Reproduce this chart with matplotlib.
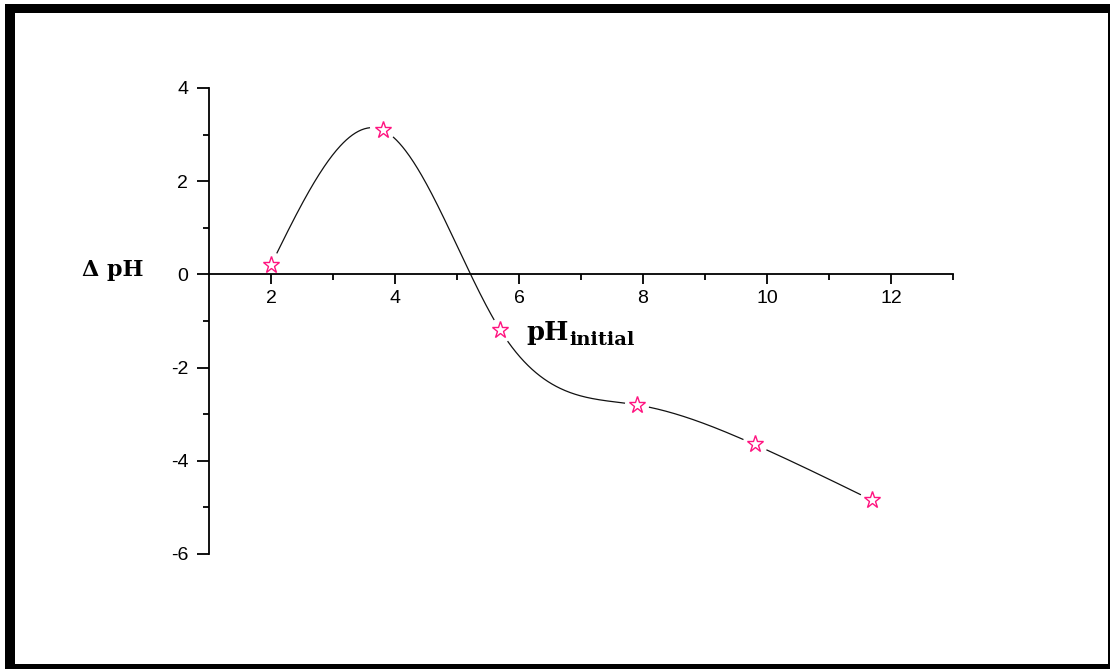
import numpy as np
import matplotlib
matplotlib.use("Agg")
import matplotlib.pyplot as plt
from matplotlib.patches import Rectangle

# --- data ------------------------------------------------------------------
ph_initial = [2.0, 3.8, 5.7, 7.9, 9.8, 11.7]
delta_ph = [0.2, 3.1, -1.2, -2.8, -3.65, -4.85]

x_ticks = [2, 4, 6, 8, 10, 12]
y_ticks = [-6, -4, -2, 0, 2, 4]


def natural_spline(x, y, n=600):
    """Natural cubic spline through the points (the smooth connecting line)."""
    x = np.asarray(x, float)
    y = np.asarray(y, float)
    k = len(x)
    h = np.diff(x)
    A = np.zeros((k, k))
    b = np.zeros(k)
    A[0, 0] = A[-1, -1] = 1.0
    for i in range(1, k - 1):
        A[i, i - 1] = h[i - 1]
        A[i, i] = 2 * (h[i - 1] + h[i])
        A[i, i + 1] = h[i]
        b[i] = 6 * ((y[i + 1] - y[i]) / h[i] - (y[i] - y[i - 1]) / h[i - 1])
    m = np.linalg.solve(A, b)
    xs = np.linspace(x[0], x[-1], n)
    idx = np.clip(np.searchsorted(x, xs) - 1, 0, k - 2)
    x0, x1 = x[idx], x[idx + 1]
    hh = x1 - x0
    t0, t1 = x1 - xs, xs - x0
    ys = (m[idx] * t0 ** 3 + m[idx + 1] * t1 ** 3) / (6 * hh) \
        + (y[idx] / hh - m[idx] * hh / 6) * t0 \
        + (y[idx + 1] / hh - m[idx + 1] * hh / 6) * t1
    return xs, ys


fig = plt.figure(figsize=(11.1, 6.69), dpi=100)
ax = fig.add_axes([209 / 1110, 115 / 669, 744 / 1110, 466 / 669])
ax.set_xlim(1, 13)
ax.set_ylim(-6, 4)

# spline line, broken around each symbol like the original plot
xs, ys = natural_spline(ph_initial, delta_ph)
pix = ax.transData.transform(np.column_stack([xs, ys]))
pts = ax.transData.transform(np.column_stack([ph_initial, delta_ph]))
d = np.min(np.hypot(pix[:, None, 0] - pts[None, :, 0],
                    pix[:, None, 1] - pts[None, :, 1]), axis=1)
ys_gap = np.where(d < 12.5, np.nan, ys)
ax.plot(xs, ys_gap, color="#111111", lw=0.9, zorder=2)

ax.plot(ph_initial, delta_ph, ls="none", marker="*", ms=12.5,
        mfc="none", mec="#FF1480", mew=1.0, zorder=3)

# axes: y axis on the left, x axis through zero
for s in ("top", "right"):
    ax.spines[s].set_visible(False)
ax.spines["bottom"].set_position(("data", 0))
for s in ("left", "bottom"):
    ax.spines[s].set_linewidth(1.3)

ax.set_xticks(x_ticks)
ax.set_xticks(np.arange(3, 14, 2), minor=True)
ax.set_yticks(y_ticks)
ax.set_yticks(np.arange(-5, 4, 2), minor=True)
ax.set_yticklabels([str(v) for v in y_ticks])
ax.tick_params(axis="both", which="major", direction="out", width=1.3,
               labelsize=14, colors="black")
ax.tick_params(axis="y", which="major", length=9, pad=6)
ax.tick_params(axis="y", which="minor", length=4.5, width=1.3)
ax.tick_params(axis="x", which="major", length=7, pad=4)
ax.tick_params(axis="x", which="minor", length=4, width=1.3)
for lab in ax.get_xticklabels() + ax.get_yticklabels():
    lab.set_family("Liberation Sans")

# axis titles
serif = {"family": "DejaVu Serif", "weight": "bold"}
fig.text(82 / 1110, 1 - 276 / 669, "\u0394 pH", fontsize=16,
         ha="left", va="baseline", **serif)
t = fig.text(526 / 1110, 1 - 340 / 669, "pH", fontsize=18.5,
             ha="left", va="baseline", **serif)
ax.annotate("initial", xy=(1, 0), xycoords=t, xytext=(0.5, 0),
            textcoords="offset points", fontsize=14, ha="left",
            va="baseline", annotation_clip=False, **serif)

# black frame around the whole picture (uneven thickness as in the original)
W, H = 1110, 669
frame = [(5, 4, 10, 665), (5, 4, 1105, 9), (5, 664, 1105, 5), (1108, 4, 2, 665)]
for x0, y0, w, h in frame:
    fig.patches.append(Rectangle((x0 / W, 1 - (y0 + h) / H), w / W, h / H,
                                 transform=fig.transFigure, color="black",
                                 lw=0, figure=fig))

fig.savefig("out.png", dpi=100)
